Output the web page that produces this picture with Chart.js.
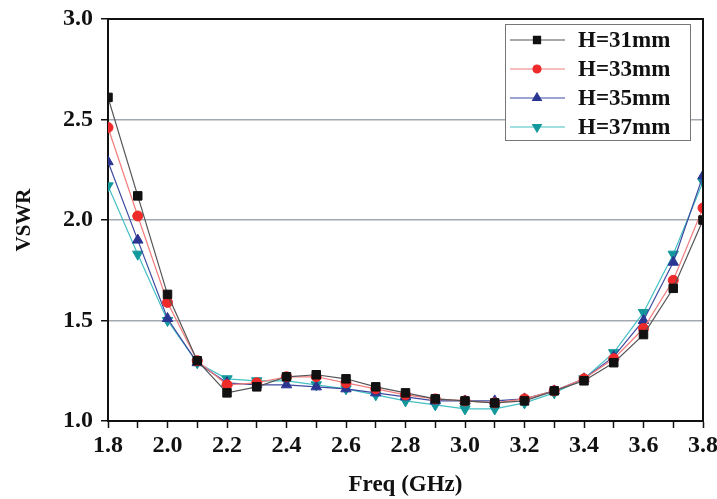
<!DOCTYPE html>
<html>
<head>
<meta charset="utf-8">
<script src="https://cdn.jsdelivr.net/npm/chart.js@4"></script>
<style>
  html, body { margin: 0; padding: 0; background: #fff; }
  #wrap { width: 717px; height: 499px; }
</style>
</head>
<body>
<div id="wrap"><canvas id="chart" width="717" height="499"></canvas></div>
<script>
const freq = [1.8, 1.9, 2.0, 2.1, 2.2, 2.3, 2.4, 2.5, 2.6, 2.7, 2.8, 2.9, 3.0, 3.1, 3.2, 3.3, 3.4, 3.5, 3.6, 3.7, 3.8];

const h31 = [2.61, 2.12, 1.63, 1.30, 1.14, 1.17, 1.22, 1.23, 1.21, 1.17, 1.14, 1.11, 1.10, 1.09, 1.10, 1.15, 1.20, 1.29, 1.43, 1.66, 2.00];
const h33 = [2.46, 2.02, 1.59, 1.30, 1.18, 1.19, 1.22, 1.22, 1.19, 1.16, 1.13, 1.11, 1.10, 1.09, 1.11, 1.15, 1.21, 1.31, 1.46, 1.70, 2.06];
const h35 = [2.29, 1.90, 1.51, 1.29, 1.19, 1.18, 1.18, 1.17, 1.16, 1.14, 1.12, 1.10, 1.10, 1.10, 1.11, 1.15, 1.21, 1.32, 1.50, 1.79, 2.22];
const h37 = [2.17, 1.83, 1.50, 1.29, 1.21, 1.20, 1.20, 1.18, 1.16, 1.13, 1.10, 1.08, 1.06, 1.06, 1.09, 1.14, 1.21, 1.34, 1.54, 1.83, 2.19];

const labels = ["H=31mm", "H=33mm", "H=35mm", "H=37mm"];

const serif = "'Liberation Serif', 'DejaVu Serif', serif";

const pts = (arr) => arr.map((v, i) => ({ x: freq[i], y: v }));

function series(label, data, line, mark, style, size, rot) {
    return {
        label: label,
        data: pts(data),
        borderColor: line,
        borderWidth: 1.2,
        backgroundColor: mark,
        pointBorderColor: mark,
        pointBackgroundColor: mark,
        pointStyle: style,
        pointRadius: size,
        pointRotation: rot || 0,
        pointBorderWidth: 1,
        tension: 0
    };
}

// top/right frame + legend box inside the plot
const framePlugin = {
    id: 'frame',
    afterDraw(chart) {
        const { ctx, chartArea: a } = chart;
        ctx.save();
        ctx.strokeStyle = '#111';
        ctx.lineWidth = 2;
        ctx.beginPath();
        ctx.moveTo(a.left, a.top);
        ctx.lineTo(a.right, a.top);
        ctx.lineTo(a.right, a.bottom);
        ctx.stroke();

        const bx = 505, by = 24, bw = 185, bh = 116;
        ctx.fillStyle = '#fff';
        ctx.fillRect(bx, by, bw, bh);
        ctx.strokeStyle = '#777';
        ctx.lineWidth = 1;
        ctx.strokeRect(bx + 0.5, by + 0.5, bw, bh);

        ctx.font = "bold 23px " + serif;
        ctx.textBaseline = 'middle';
        chart.data.datasets.forEach((ds, i) => {
            const y = by + 16 + i * 29;
            ctx.strokeStyle = ds.borderColor;
            ctx.lineWidth = 1.2;
            ctx.beginPath();
            ctx.moveTo(bx + 5, y);
            ctx.lineTo(bx + 60, y);
            ctx.stroke();
            ctx.fillStyle = ds.pointBackgroundColor;
            ctx.strokeStyle = ds.pointBorderColor;
            Chart.helpers.drawPoint(ctx, {
                pointStyle: ds.pointStyle,
                radius: ds.pointRadius - 1,
                rotation: ds.pointRotation,
                borderWidth: 1
            }, bx + 32, y);
            ctx.fillStyle = '#111';
            ctx.fillText(ds.label, bx + 73, y + 1);
        });
        ctx.restore();
    }
};

new Chart("chart", {
    type: 'line',
    data: {
        datasets: [
            series(labels[0], h31, '#555555', '#111111', 'rect', 6),
            series(labels[1], h33, '#f27c7c', '#ee2a2a', 'circle', 5),
            series(labels[2], h35, '#3d4aa0', '#2b3592', 'triangle', 6),
            series(labels[3], h37, '#45c0c4', '#12989c', 'triangle', 6, 180)
        ]
    },
    options: {
        responsive: false,
        animation: false,
        layout: { padding: { top: 19, right: 14, left: 0, bottom: 0 } },
        plugins: {
            legend: { display: false },
            tooltip: { enabled: false }
        },
        scales: {
            x: {
                type: 'linear',
                min: 1.8,
                max: 3.8,
                afterFit(s) {
                    s.height = 78;
                    s.paddingLeft = 0;
                    s.paddingRight = 0;
                },
                border: { color: '#111', width: 2 },
                grid: {
                    drawOnChartArea: false,
                    drawTicks: true,
                    tickLength: 7,
                    tickColor: '#111',
                    tickWidth: 1.5
                },
                ticks: {
                    stepSize: 0.1,
                    autoSkip: false,
                    maxRotation: 0,
                    color: '#111',
                    padding: 3,
                    font: { family: serif, size: 24, weight: 'bold' },
                    callback(v) {
                        const k = Math.round(v * 10);
                        return k % 2 === 0 ? (k / 10).toFixed(1) : '';
                    }
                },
                title: {
                    display: true,
                    text: 'Freq (GHz)',
                    color: '#111',
                    padding: { top: 11, bottom: 0 },
                    font: { family: serif, size: 23, weight: 'bold' }
                }
            },
            y: {
                min: 1.0,
                max: 3.0,
                afterFit(s) {
                    s.width = 108;
                    s.paddingTop = 0;
                    s.paddingBottom = 0;
                },
                border: { color: '#111', width: 2 },
                grid: {
                    color: (c) => (c.tick && (c.tick.value === 1 || c.tick.value === 3)) ? 'rgba(0,0,0,0)' : '#a3a9b0',
                    lineWidth: 1.5,
                    tickLength: 7,
                    tickColor: '#111',
                    tickWidth: 1.5
                },
                ticks: {
                    stepSize: 0.5,
                    color: '#111',
                    padding: 8,
                    font: { family: serif, size: 24, weight: 'bold' },
                    callback: (v) => v.toFixed(1)
                },
                title: {
                    display: true,
                    text: 'VSWR',
                    color: '#111',
                    padding: { top: 12, bottom: 0 },
                    font: { family: serif, size: 21, weight: 'bold' }
                }
            }
        }
    },
    plugins: [framePlugin]
});
</script>
</body>
</html>
